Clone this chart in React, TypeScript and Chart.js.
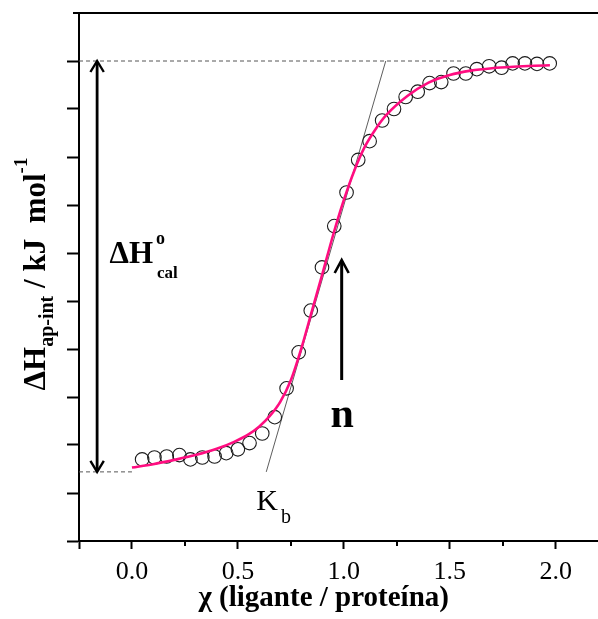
import React, { useEffect, useRef } from 'react';
import { Chart, registerables } from 'chart.js';

Chart.register(...registerables);

const FONT = '"Liberation Serif", "Times New Roman", serif';

// ---- data ----
const chiValues = [
  0.048, 0.106, 0.164, 0.224, 0.276, 0.332, 0.390, 0.445, 0.500, 0.555,
  0.615, 0.674, 0.730, 0.787, 0.844, 0.897, 0.955, 1.013, 1.068, 1.122,
  1.181, 1.237, 1.292, 1.349, 1.405, 1.460, 1.518, 1.576, 1.628, 1.686,
  1.745, 1.797, 1.855, 1.912, 1.972,
];
const deltaHValues = [
  1.70, 1.74, 1.76, 1.79, 1.70, 1.74, 1.76, 1.83, 1.91, 2.04,
  2.24, 2.58, 3.18, 3.93, 4.80, 5.70, 6.56, 7.26, 7.94, 8.33,
  8.76, 9.00, 9.25, 9.36, 9.54, 9.56, 9.74, 9.74, 9.83, 9.89,
  9.86, 9.95, 9.95, 9.94, 9.95,
];
const fitChiValues = [
  0.0, 0.10, 0.20, 0.30, 0.40, 0.48, 0.55, 0.60, 0.65, 0.70,
  0.75, 0.80, 0.85, 0.90, 0.95, 1.00, 1.05, 1.10, 1.15, 1.20,
  1.30, 1.40, 1.50, 1.60, 1.70, 1.80, 1.90, 1.973,
];
const fitDeltaHValues = [
  1.53, 1.60, 1.69, 1.79, 1.92, 2.06, 2.22, 2.38, 2.60, 2.90,
  3.35, 4.02, 4.80, 5.58, 6.38, 7.10, 7.72, 8.22, 8.58, 8.87,
  9.27, 9.55, 9.71, 9.80, 9.85, 9.88, 9.90, 9.91,
];
const xTickValues = [-0.25, 0, 0.5, 1.0, 1.5, 2.0];
const xMinorTickValues = [0.25, 0.75, 1.25, 1.75];
const yTickValues = [0, 1, 2, 3, 4, 5, 6, 7, 8, 9, 10];

const X_MIN = -0.25;
const X_MAX = 2.2;
const Y_MIN = 0;
const Y_MAX = 11;

const upperPlateau = 10;
const lowerPlateau = 1.44;
const upperDashChi = [-0.25, 1.57];
const lowerDashChi = [-0.25, 0.0];
const tangentChi = [0.634, 1.198];
const tangentDeltaH = [1.44, 10];

const dhArrowChi = -0.1645;
const nArrowChi = 0.99;
const nArrowDeltaH = [3.354, 5.854];

const dhCalLabel = { chi: -0.106, dh: 5.785 };
const nLabel = { chi: 0.992, dh: 2.38 };
const kbLabel = { chi: 0.587, dh: 0.646 };

const xAxisTitle = 'χ (ligante / proteína)';
const xTitleChi = 0.905;

function drawHead(ctx: CanvasRenderingContext2D, x: number, tipY: number, dir: number, half: number, len: number) {
  ctx.beginPath();
  ctx.moveTo(x - half, tipY + dir * len);
  ctx.lineTo(x, tipY);
  ctx.lineTo(x + half, tipY + dir * len);
  ctx.stroke();
}

const annotationPlugin = {
  id: 'itcAnnotations',
  afterDraw(chart: any) {
    const { ctx, chartArea, scales } = chart;
    const xs = scales.x;
    const ys = scales.y;
    const px = (v: number) => xs.getPixelForValue(v);
    const py = (v: number) => ys.getPixelForValue(v);
    ctx.save();
    ctx.strokeStyle = '#000';
    ctx.fillStyle = '#000';
    ctx.lineCap = 'butt';

    // top frame line
    ctx.lineWidth = 2;
    ctx.beginPath();
    ctx.moveTo(chartArea.left - 6, chartArea.top);
    ctx.lineTo(chartArea.right, chartArea.top);
    ctx.stroke();

    // minor x ticks
    ctx.lineWidth = 2;
    for (const v of xMinorTickValues) {
      const x = Math.round(px(v));
      ctx.beginPath();
      ctx.moveTo(x, chartArea.bottom);
      ctx.lineTo(x, chartArea.bottom + 5);
      ctx.stroke();
    }

    // double arrow (ΔH°cal)
    const ax = px(dhArrowChi);
    const aTop = py(upperPlateau);
    const aBot = py(lowerPlateau);
    ctx.lineWidth = 2.8;
    ctx.beginPath();
    ctx.moveTo(ax, aTop + 1);
    ctx.lineTo(ax, aBot - 1);
    ctx.stroke();
    ctx.lineWidth = 2.4;
    drawHead(ctx, ax, aTop, 1, 6.7, 11);
    drawHead(ctx, ax, aBot, -1, 6.7, 11);

    // n arrow
    const nx = px(nArrowChi);
    const nBot = py(nArrowDeltaH[0]);
    const nTop = py(nArrowDeltaH[1]);
    ctx.lineWidth = 3;
    ctx.beginPath();
    ctx.moveTo(nx, nBot);
    ctx.lineTo(nx, nTop + 1);
    ctx.stroke();
    ctx.lineWidth = 2.6;
    drawHead(ctx, nx, nTop, 1, 7, 13);

    // ΔH°cal label
    ctx.textAlign = 'left';
    ctx.textBaseline = 'alphabetic';
    const lx = px(dhCalLabel.chi);
    const lb = py(dhCalLabel.dh);
    ctx.font = `bold 31px ${FONT}`;
    ctx.fillText('ΔH', lx, lb);
    const wDH = ctx.measureText('ΔH').width;
    ctx.font = `bold 18px ${FONT}`;
    ctx.fillText('o', lx + wDH + 3, lb - 19);
    ctx.font = `bold 17px ${FONT}`;
    ctx.fillText('cal', lx + wDH + 4, lb + 15);

    // n label
    ctx.font = `bold 42px ${FONT}`;
    ctx.textAlign = 'center';
    ctx.fillText('n', px(nLabel.chi), py(nLabel.dh));

    // K_b label
    ctx.textAlign = 'left';
    const kx = px(kbLabel.chi);
    const kb = py(kbLabel.dh);
    ctx.font = `30px ${FONT}`;
    ctx.fillText('K', kx, kb);
    const wK = ctx.measureText('K').width;
    ctx.font = `20px ${FONT}`;
    ctx.fillText('b', kx + wK + 3, kb + 13);

    // x axis title
    ctx.font = `bold 29px ${FONT}`;
    ctx.textAlign = 'center';
    ctx.fillText(xAxisTitle, px(xTitleChi), chartArea.bottom + 65);

    // y axis title (rotated, with sub/superscripts)
    const parts = [
      { text: 'ΔH', size: 31, shift: 0 },
      { text: 'ap-int', size: 20, shift: 8 },
      { text: ' / kJ  mol', size: 31, shift: 0 },
      { text: '-1', size: 19, shift: -18 },
    ];
    let total = 0;
    const widths: number[] = [];
    for (const p of parts) {
      ctx.font = `bold ${p.size}px ${FONT}`;
      const w = ctx.measureText(p.text).width;
      widths.push(w);
      total += w;
    }
    ctx.translate(chartArea.left - 34, (chartArea.top + chartArea.bottom) / 2 - 3);
    ctx.rotate(-Math.PI / 2);
    ctx.textAlign = 'left';
    let pos = -total / 2;
    parts.forEach((p, i) => {
      ctx.font = `bold ${p.size}px ${FONT}`;
      ctx.fillText(p.text, pos, p.shift);
      pos += widths[i];
    });

    ctx.restore();
  },
};

export default function App() {
  const canvasRef = useRef<HTMLCanvasElement | null>(null);

  useEffect(() => {
    const canvas = canvasRef.current;
    if (!canvas) return;
    const toPoints = (xs: number[], ys: number[]) => xs.map((x, i) => ({ x, y: ys[i] }));

    const chart = new Chart(canvas, {
      type: 'scatter',
      data: {
        datasets: [
          {
            type: 'line',
            label: 'ajuste',
            data: toPoints(fitChiValues, fitDeltaHValues),
            borderColor: '#ff0d80',
            borderWidth: 2.6,
            pointRadius: 0,
            fill: false,
            cubicInterpolationMode: 'monotone',
            order: 0,
          } as any,
          {
            label: 'dados',
            data: toPoints(chiValues, deltaHValues),
            showLine: false,
            pointRadius: 6.8,
            pointBorderWidth: 1.1,
            pointBorderColor: '#1b1b1b',
            pointBackgroundColor: 'rgba(255,255,255,0)',
            order: 1,
          },
          {
            type: 'line',
            label: 'upper',
            data: toPoints(upperDashChi, [upperPlateau, upperPlateau]),
            borderColor: '#555',
            borderWidth: 1,
            borderDash: [4, 3],
            pointRadius: 0,
            order: 2,
          } as any,
          {
            type: 'line',
            label: 'lower',
            data: toPoints(lowerDashChi, [lowerPlateau, lowerPlateau]),
            borderColor: '#555',
            borderWidth: 1,
            borderDash: [4, 3],
            pointRadius: 0,
            order: 2,
          } as any,
          {
            type: 'line',
            label: 'tangent',
            data: toPoints(tangentChi, tangentDeltaH),
            borderColor: '#333',
            borderWidth: 0.8,
            pointRadius: 0,
            order: 2,
          } as any,
        ],
      },
      options: {
        responsive: false,
        animation: false,
        devicePixelRatio: 1,
        events: [],
        layout: { autoPadding: false, padding: { top: 13, right: 0, left: 0, bottom: 0 } },
        plugins: {
          legend: { display: false },
          tooltip: { enabled: false },
        },
        scales: {
          x: {
            type: 'linear',
            min: X_MIN,
            max: X_MAX,
            afterBuildTicks: (scale: any) => {
              scale.ticks = xTickValues.map((value) => ({ value }));
            },
            afterFit: (scale: any) => {
              scale.height = 78;
              scale.paddingLeft = 0;
              scale.paddingRight = 0;
            },
            grid: {
              drawOnChartArea: false,
              drawTicks: true,
              tickLength: 8,
              tickWidth: 2,
              tickColor: '#000',
            },
            border: { display: true, color: '#000', width: 2 },
            ticks: {
              color: '#000',
              font: { family: FONT, size: 26 },
              padding: 8,
              maxRotation: 0,
              autoSkip: false,
              callback: (v: any) => (Number(v) < 0 ? '' : Number(v).toFixed(1)),
            },
          },
          y: {
            type: 'linear',
            min: Y_MIN,
            max: Y_MAX,
            afterBuildTicks: (scale: any) => {
              scale.ticks = yTickValues.map((value) => ({ value }));
            },
            afterFit: (scale: any) => {
              scale.width = 79;
              scale.paddingTop = 0;
              scale.paddingBottom = 0;
            },
            grid: {
              drawOnChartArea: false,
              drawTicks: true,
              tickLength: 12,
              tickWidth: 2,
              tickColor: '#000',
            },
            border: { display: true, color: '#000', width: 2 },
            ticks: { display: false },
          },
        },
      },
      plugins: [annotationPlugin],
    } as any);

    return () => chart.destroy();
  }, []);

  return (
    <div style={{ position: 'absolute', left: 0, top: 0, width: 598, height: 619, background: '#fff' }}>
      <canvas ref={canvasRef} width={598} height={619} style={{ display: 'block' }} />
    </div>
  );
}
